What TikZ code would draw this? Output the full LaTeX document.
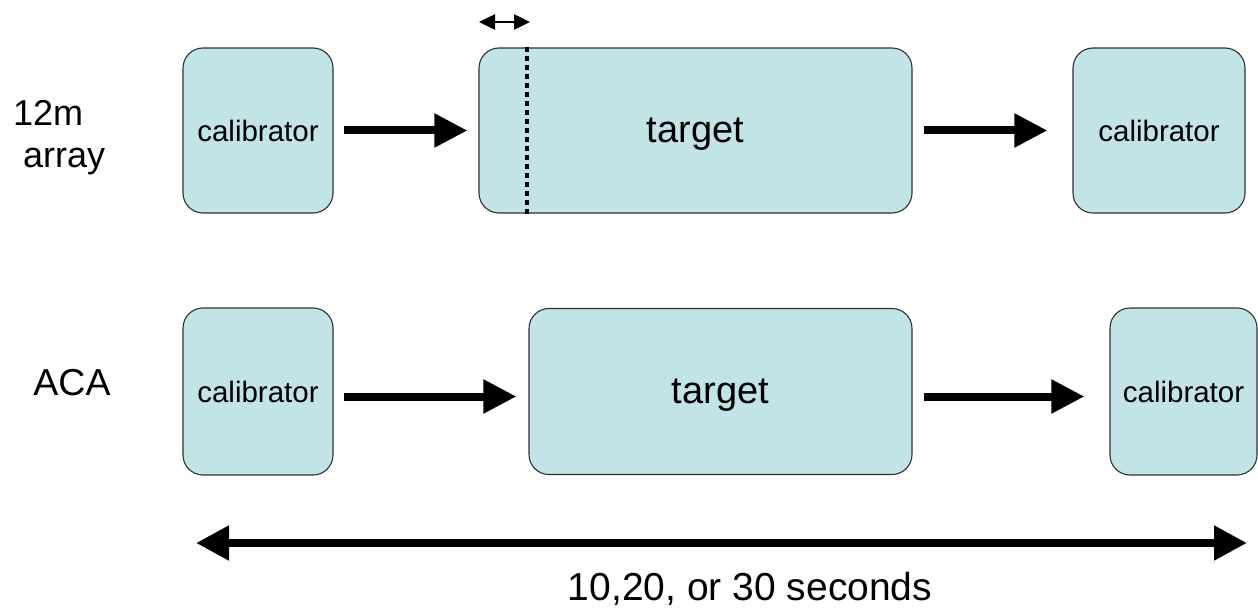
\documentclass[tikz,border=0pt]{standalone}
\usepackage{fontspec}
\setmainfont{Liberation Sans}
\usetikzlibrary{arrows.meta}
\definecolor{boxfill}{HTML}{C2E4E6}
\definecolor{boxline}{HTML}{303030}
\tikzset{
  box/.style={draw=boxline, line width=1.1pt, fill=boxfill, rounded corners=20pt, inner sep=0pt},
  caltext/.style={font=\fontsize{29.5}{34}\selectfont},
  tgttext/.style={font=\fontsize{38}{44}\selectfont, text depth=0pt},
  lbl/.style={font=\fontsize{36}{40}\selectfont, inner sep=0pt},
  bigarrow/.style={line width=8pt, -{Triangle[length=33pt,width=32pt]}},
  longarrow/.style={line width=8pt, {Triangle[length=33pt,width=33pt]}-{Triangle[length=33pt,width=33pt]}},
  smallarrow/.style={line width=2.5pt, {Triangle[length=16pt,width=15pt]}-{Triangle[length=16pt,width=15pt]}},
  dotline/.style={line width=4pt, dash pattern=on 5pt off 4pt}
}
\begin{document}
\begin{tikzpicture}[x=1pt,y=-1pt]
\useasboundingbox (0,0) rectangle (1258,615);
% labels
\node[lbl, align=left, anchor=north west] (l12) at (13,100) {12m\\[2pt]\hspace*{10pt}array};
\node[lbl, font=\fontsize{37.5}{40}\selectfont] (laca) at (72,383) {ACA};
% top row
\node[box, caltext, minimum width=150pt, minimum height=165pt] (c1) at (258,130.5) {calibrator};
\node[box, tgttext, minimum width=433pt, minimum height=165pt] (t1) at (695.5,130.5) {target};
\node[box, caltext, minimum width=172pt, minimum height=165pt] (c2) at (1159,130.5) {calibrator};
% bottom row
\node[box, caltext, minimum width=150pt, minimum height=167pt] (c3) at (258,391.5) {calibrator};
\node[box, tgttext, minimum width=383pt, minimum height=166pt] (t2) at (720.5,391.5) {target};
\node[box, caltext, minimum width=147pt, minimum height=167pt] (c4) at (1183.5,391.5) {calibrator};
% dotted line in target
\draw[dotline] ([xshift=49pt]t1.north west) -- ([xshift=49pt]t1.south west);
% small double arrow
\coordinate (sa) at (479,22);
\coordinate (sb) at (530,22);
\draw[smallarrow] (sa) -- (sb);
% arrows
\draw[bigarrow, shorten <=10pt, shorten >=11pt] (c1) -- (t1);
\draw[bigarrow, shorten <=11pt, shorten >=25pt] (t1) -- (c2);
\draw[bigarrow, shorten <=10pt, shorten >=12pt] ([yshift=-5pt]c3.east) -- ([yshift=-5pt]t2.west);
\draw[bigarrow, shorten <=11pt, shorten >=25pt] ([yshift=-5pt]t2.east) -- ([yshift=-5pt]c4.west);
% long arrow
\coordinate (la) at (196,543);
\coordinate (lb) at (1247,543);
\draw[longarrow] (la) -- (lb);
\node[font=\fontsize{39}{44}\selectfont] (dur) at (750,589) {10,20, or 30 seconds};
\end{tikzpicture}
\end{document}
